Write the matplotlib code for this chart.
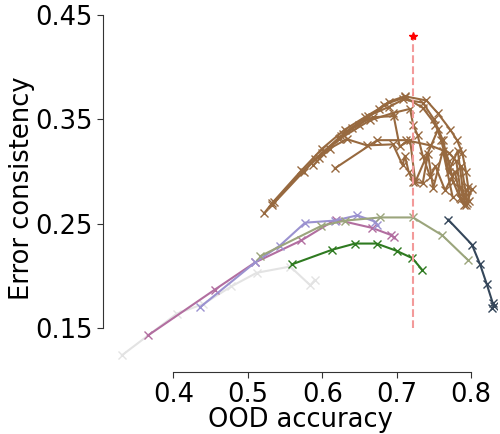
import matplotlib
matplotlib.use("Agg")
import matplotlib.pyplot as plt

# --- data (OOD accuracy, error consistency) ---
gray_x = [0.331, 0.405, 0.440, 0.478, 0.512, 0.557, 0.584, 0.590]
gray_y = [0.124, 0.164, 0.173, 0.190, 0.203, 0.209, 0.191, 0.196]

pink_x = [0.366, 0.456, 0.510, 0.572, 0.618, 0.667, 0.693, 0.696]
pink_y = [0.143, 0.187, 0.213, 0.234, 0.254, 0.246, 0.239, 0.237]

lavender_x = [0.436, 0.510, 0.543, 0.577, 0.617, 0.647, 0.671, 0.674]
lavender_y = [0.170, 0.213, 0.229, 0.251, 0.253, 0.258, 0.252, 0.249]

olive_x = [0.517, 0.599, 0.631, 0.678, 0.722, 0.761, 0.796]
olive_y = [0.219, 0.248, 0.253, 0.256, 0.256, 0.239, 0.215]

green_x = [0.559, 0.613, 0.644, 0.673, 0.700, 0.721, 0.734]
green_y = [0.211, 0.225, 0.231, 0.231, 0.224, 0.217, 0.206]

slate_x = [0.769, 0.801, 0.812, 0.821, 0.829, 0.830, 0.828]
slate_y = [0.254, 0.230, 0.211, 0.192, 0.174, 0.171, 0.169]

# brown family: several runs of the same model family
brown_runs = [
    ([0.522, 0.533, 0.572, 0.600, 0.630, 0.657, 0.676, 0.690, 0.711, 0.740, 0.755, 0.772, 0.781, 0.788, 0.793, 0.796, 0.797],
     [0.260, 0.270, 0.301, 0.322, 0.340, 0.352, 0.360, 0.367, 0.372, 0.368, 0.356, 0.340, 0.330, 0.318, 0.300, 0.285, 0.272]),
    ([0.533, 0.575, 0.600, 0.625, 0.650, 0.683, 0.711, 0.735, 0.752, 0.760, 0.770, 0.776, 0.785, 0.790],
     [0.268, 0.300, 0.318, 0.334, 0.345, 0.364, 0.371, 0.361, 0.345, 0.330, 0.310, 0.290, 0.275, 0.268]),
    ([0.535, 0.590, 0.623, 0.664, 0.695, 0.718, 0.722, 0.728, 0.735, 0.745, 0.752, 0.765, 0.778, 0.786],
     [0.271, 0.312, 0.331, 0.349, 0.356, 0.360, 0.345, 0.335, 0.315, 0.295, 0.305, 0.282, 0.300, 0.274]),
    ([0.617, 0.674, 0.713, 0.745, 0.770, 0.780, 0.785, 0.790, 0.793, 0.801],
     [0.303, 0.330, 0.330, 0.325, 0.318, 0.310, 0.285, 0.275, 0.268, 0.283]),
    ([0.588, 0.610, 0.633, 0.660, 0.695, 0.708, 0.711, 0.716, 0.722, 0.735, 0.742, 0.749, 0.762, 0.775],
     [0.306, 0.322, 0.331, 0.325, 0.326, 0.306, 0.315, 0.300, 0.290, 0.289, 0.317, 0.284, 0.320, 0.276]),
    ([0.595, 0.624, 0.640, 0.668, 0.696, 0.704, 0.718, 0.725, 0.756, 0.770, 0.782, 0.790, 0.795],
     [0.313, 0.332, 0.342, 0.352, 0.353, 0.324, 0.330, 0.290, 0.341, 0.300, 0.320, 0.276, 0.282]),
    ([0.628, 0.661, 0.690, 0.709, 0.735, 0.750, 0.762, 0.774, 0.787, 0.795],
     [0.336, 0.353, 0.362, 0.369, 0.366, 0.350, 0.330, 0.296, 0.305, 0.270]),
]

cutoff_x = 0.722
cutoff_y = [0.15, 0.43]

brown = "#97693f"
series = [
    (gray_x, gray_y, "#e3e3e3"),
    (pink_x, pink_y, "#b26ea0"),
    (lavender_x, lavender_y, "#9b92d0"),
    (olive_x, olive_y, "#9ba57c"),
    (green_x, green_y, "#2e7a20"),
    (slate_x, slate_y, "#34465a"),
]

fig = plt.figure(figsize=(5, 4.34), dpi=100)
ax = fig.add_axes([103 / 500, 62 / 434, 394 / 500, 368 / 434])

for xs, ys in brown_runs:
    ax.plot(xs, ys, color=brown, marker="x", ms=5.5, mew=1, lw=1.5)
for xs, ys, c in series:
    ax.plot(xs, ys, color=c, marker="x", ms=5.5, mew=1, lw=1.5)

ax.plot([cutoff_x, cutoff_x], cutoff_y, color="#f39a9a", ls="--", lw=1.5)
ax.plot([cutoff_x], [cutoff_y[1]], marker="*", color="red", ms=6)

ax.set_xlim(0.3056, 0.8347)
ax.set_ylim(0.108, 0.4604)
ax.set_xticks([0.4, 0.5, 0.6, 0.7, 0.8])
ax.set_yticks([0.15, 0.25, 0.35, 0.45])
ax.spines["top"].set_visible(False)
ax.spines["right"].set_visible(False)
ax.spines["left"].set_bounds(0.15, 0.45)
ax.spines["bottom"].set_bounds(0.4, 0.8)
for s in ("left", "bottom"):
    ax.spines[s].set_color("#333333")
ax.tick_params(labelsize=18.5, length=4, color="#333333")
ax.set_xlabel("OOD accuracy", fontsize=18.5, labelpad=-1)
ax.set_ylabel("Error consistency", fontsize=18.5, labelpad=0)

fig.savefig("out.png", dpi=100)
